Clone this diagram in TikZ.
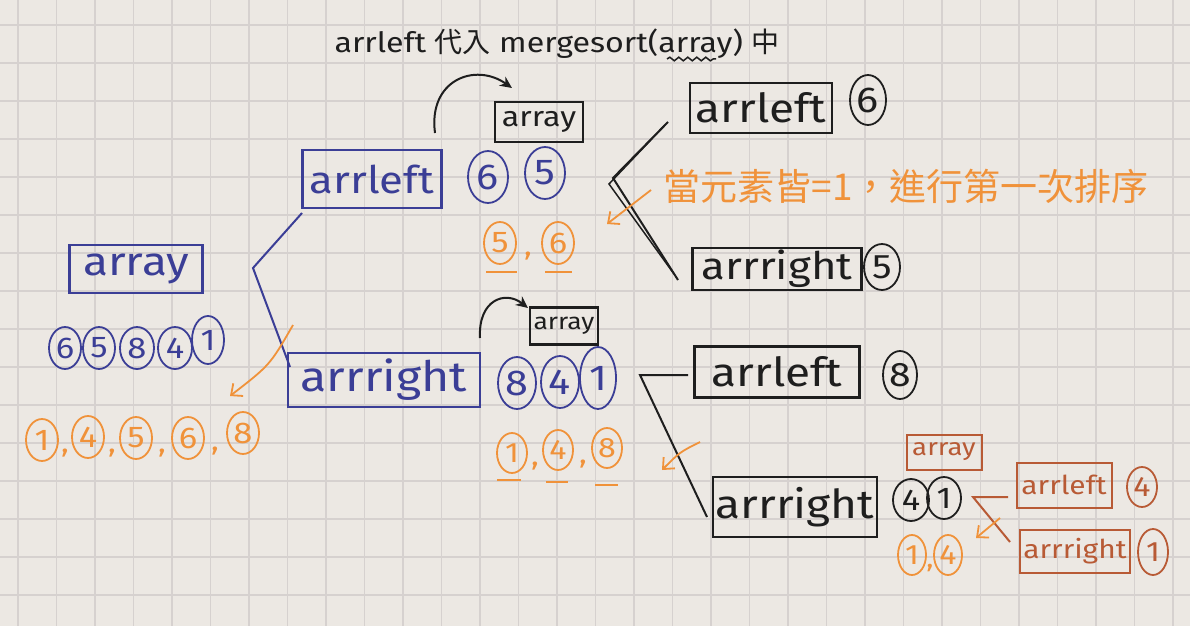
\documentclass[tikz,border=0pt]{standalone}
\usepackage{fontspec}
\setmainfont{Fira Sans}[FakeStretch=1.15]
\newfontfamily\cjk{Noto Sans CJK TC}
\usetikzlibrary{shapes.geometric,arrows.meta,calc,decorations.pathmorphing}
\definecolor{paper}{HTML}{ECE8E3}
\definecolor{gridc}{HTML}{D6D1CF}
\definecolor{inkblue}{HTML}{3B3E96}
\definecolor{inkblack}{HTML}{1E1E1E}
\definecolor{inkorange}{HTML}{F0923A}
\definecolor{inkbrown}{HTML}{B85A35}
\newcommand{\myfs}[1]{\fontsize{#1}{#1}\selectfont}
\begin{document}
\begin{tikzpicture}[x=1pt,y=-1pt,
  box/.style={draw, line width=2.6pt, inner sep=0pt},
  num/.style={ellipse, draw, line width=1.8pt, inner sep=0pt, minimum width=34, minimum height=44, font=\myfs{30}},
  onum/.style={num, inkorange, minimum width=30, minimum height=40, font=\myfs{28}},
  oline/.style={inkorange, line width=2pt},
  oarrow/.style={inkorange, line width=1.8pt, -{Straight Barb[length=9pt,width=16pt]}},
  karrow/.style={inkblack, line width=2pt, -{Stealth[length=12pt,width=11pt]}},
  brk/.style={line width=2pt}]
% paper and grid
\fill[paper] (0,0) rectangle (1190,626);
\useasboundingbox (0,0) rectangle (1190,626);
\foreach \i in {0,...,30} \draw[gridc, line width=1.3pt] ({18+38.5*\i},0) -- ({18+38.5*\i},626);
\foreach \j in {0,...,15} \draw[gridc, line width=1.3pt] (0,{25+38*\j}) -- (1190,{25+38*\j});

% title
\node[inkblack, font=\myfs{28}] (title) at (557,44) {arrleft {\cjk 代入} mergesort(array) {\cjk 中}};
\coordinate (wv1) at (667,59);
\coordinate (wv2) at (716,59);
\draw[inkblack, line width=1.5pt, decorate, decoration={snake, amplitude=1.8pt, segment length=9pt}] (wv1) -- (wv2);

% ---------- blue level ----------
\node[box, inkblue, minimum width=133, minimum height=48, font=\myfs{40}] (arr) at (136,269) {array};
\node[num, inkblue, minimum width=32, minimum height=42] (b1) at (65,348) {6};
\node[num, inkblue, minimum width=32, minimum height=42] (b2) at (99,348) {5};
\node[num, inkblue, minimum width=34, minimum height=42] (b3) at (137,348) {8};
\node[num, inkblue, minimum width=34, minimum height=42] (b4) at (175,348) {4};
\node[num, inkblue, minimum width=32, minimum height=48] (b5) at (208,340) {1};

\node[box, inkblue, minimum width=139, minimum height=58, font=\myfs{38}] (lft) at (372,179) {arrleft};
\node[box, inkblue, minimum width=192, minimum height=54, font=\myfs{42}] (rgt) at (384,380) {arrright};
\coordinate (bk1) at (302,213);
\coordinate (bk2) at (253,268);
\coordinate (bk3) at (290,367);
\draw[inkblue, brk] (bk1) -- (bk2) -- (bk3);

\node[num, inkblue, minimum width=40, minimum height=52, font=\myfs{36}] (l6) at (488,177) {6};
\node[num, inkblue, minimum width=40, minimum height=52, font=\myfs{36}] (l5) at (545,173) {5};

\node[num, inkblue, minimum width=38, minimum height=52, font=\myfs{36}] (r8) at (517,383) {8};
\node[num, inkblue, minimum width=38, minimum height=52, font=\myfs{36}] (r4) at (560,382) {4};
\node[num, inkblue, minimum width=36, minimum height=62, font=\myfs{36}] (r1) at (598,378) {1};

% ---------- black level ----------
\node[box, inkblack, minimum width=88, minimum height=40, font=\myfs{28}] (ta) at (539,122) {array};
\coordinate (ca1) at (435,133);
\coordinate (ca2) at (512,88);
\draw[karrow] (ca1) .. controls (428,80) and (475,62) .. (ca2);

\node[box, inkblack, minimum width=68, minimum height=37, font=\myfs{23}] (sa) at (564,326) {array};
\coordinate (cb1) at (480,338);
\coordinate (cb2) at (528,308);
\draw[karrow] (cb1) .. controls (478,300) and (505,290) .. (cb2);

\node[box, inkblack, minimum width=142, minimum height=50, font=\myfs{40}] (tl) at (761,108) {arrleft};
\node[num, inkblack, minimum width=36, minimum height=50, font=\myfs{36}] (t6) at (868,100) {6};
\node[box, inkblack, minimum width=169, minimum height=42, font=\myfs{38}] (tr) at (777,269) {arrright};
\node[num, inkblack, minimum width=36, minimum height=46, font=\myfs{34}] (t5) at (882,267) {5};
\coordinate (k1) at (668,122);
\coordinate (k2) at (613,178);
\coordinate (k3) at (678,280);
\coordinate (k2b) at (609,184);
\draw[inkblack, brk] (k1) -- (k2) -- (k3);
\draw[inkblack, line width=1.5pt] ($(k1)+(-3,3)$) -- (k2b) -- ($(k3)+(-4,-6)$);

\node[box, inkblack, minimum width=165, minimum height=51, font=\myfs{40}] (ml) at (777,372) {arrleft};
\node[num, inkblack, minimum width=34, minimum height=48, font=\myfs{34}] (m8) at (900,375) {8};
\node[box, inkblack, minimum width=164, minimum height=60, font=\myfs{40}] (mr) at (795,507) {arrright};
\node[num, inkblack, minimum width=36, minimum height=42] (m4) at (911,500) {4};
\node[num, inkblack, minimum width=34, minimum height=42] (m1) at (944,498) {1};
\coordinate (q1) at (688,375);
\coordinate (q2) at (640,375);
\coordinate (q3) at (707,517);
\draw[inkblack, brk] (q1) -- (q2) -- (q3);

% ---------- brown level ----------
\node[box, inkbrown, line width=2pt, minimum width=75, minimum height=35, font=\myfs{24}] (ba) at (944,452) {array};
\node[box, inkbrown, line width=2pt, minimum width=95, minimum height=45, font=\myfs{26}] (bl) at (1064,485) {arrleft};
\node[num, inkbrown, minimum width=30, minimum height=40, font=\myfs{28}] (n4) at (1142,487) {4};
\node[box, inkbrown, line width=2pt, minimum width=110, minimum height=43, font=\myfs{26}] (br) at (1075,551) {arrright};
\node[num, inkbrown, minimum width=30, minimum height=46, font=\myfs{28}] (n1) at (1153,552) {1};
\coordinate (w1) at (1008,497);
\coordinate (w2) at (973,497);
\coordinate (w3) at (1010,542);
\draw[inkbrown, brk] (w1) -- (w2) -- (w3);

% ---------- orange results ----------
\node[inkorange, font=\cjk\myfs{37}] (note) at (906,186) {當元素皆=1，進行第一次排序};
\coordinate (oa1) at (651,190);
\coordinate (oa2) at (607,224);
\draw[oarrow] (oa1) -- (oa2);

\node[onum, minimum width=32, minimum height=42, font=\myfs{30}] (s5) at (500,243) {5};
\node[onum, minimum width=32, minimum height=42, font=\myfs{30}] (s6) at (558,243) {6};
\node[inkorange, font=\myfs{28}] (sc) at (528,256) {,};
\draw[oline] (486,272) -- (517,272);
\draw[oline] (545,272) -- (572,272);

\node[onum] (p1) at (512,453) {1};
\node[onum] (p4) at (558,450) {4};
\node[onum] (p8) at (607,448) {8};
\node[inkorange, font=\myfs{28}] (pc1) at (535,466) {,};
\node[inkorange, font=\myfs{28}] (pc2) at (583,464) {,};
\draw[oline] (497,480) -- (521,480);
\draw[oline] (546,482) -- (568,482);
\draw[oline] (595,485) -- (618,485);
\coordinate (ob1) at (700,442);
\coordinate (ob2) at (662,470);
\draw[oarrow] (ob1) .. controls (680,452) .. (ob2);

\node[onum, minimum width=32, minimum height=42, font=\myfs{30}] (f1) at (42,440) {1};
\node[onum, minimum width=32, minimum height=42, font=\myfs{30}] (f4) at (88,437) {4};
\node[onum, minimum width=32, minimum height=42, font=\myfs{30}] (f5) at (136,438) {5};
\node[onum, minimum width=32, minimum height=42, font=\myfs{30}] (f6) at (188,438) {6};
\node[onum, minimum width=32, minimum height=42, font=\myfs{30}] (f8) at (243,433) {8};
\node[inkorange, font=\myfs{28}] (fc1) at (65,453) {,};
\node[inkorange, font=\myfs{28}] (fc2) at (112,453) {,};
\node[inkorange, font=\myfs{28}] (fc3) at (162,453) {,};
\node[inkorange, font=\myfs{28}] (fc4) at (215,451) {,};
\coordinate (oc1) at (293,325);
\coordinate (oc2) at (230,396);
\draw[oarrow] (oc1) .. controls (270,365) .. (oc2);

\node[onum, minimum width=28, minimum height=40] (g1) at (912,555) {1};
\node[onum, minimum width=28, minimum height=40] (g4) at (948,555) {4};
\node[inkorange, font=\myfs{26}] (gc) at (930,568) {,};
\coordinate (od1) at (1000,518);
\coordinate (od2) at (976,538);
\draw[oarrow] (od1) -- (od2);
\end{tikzpicture}
\end{document}
